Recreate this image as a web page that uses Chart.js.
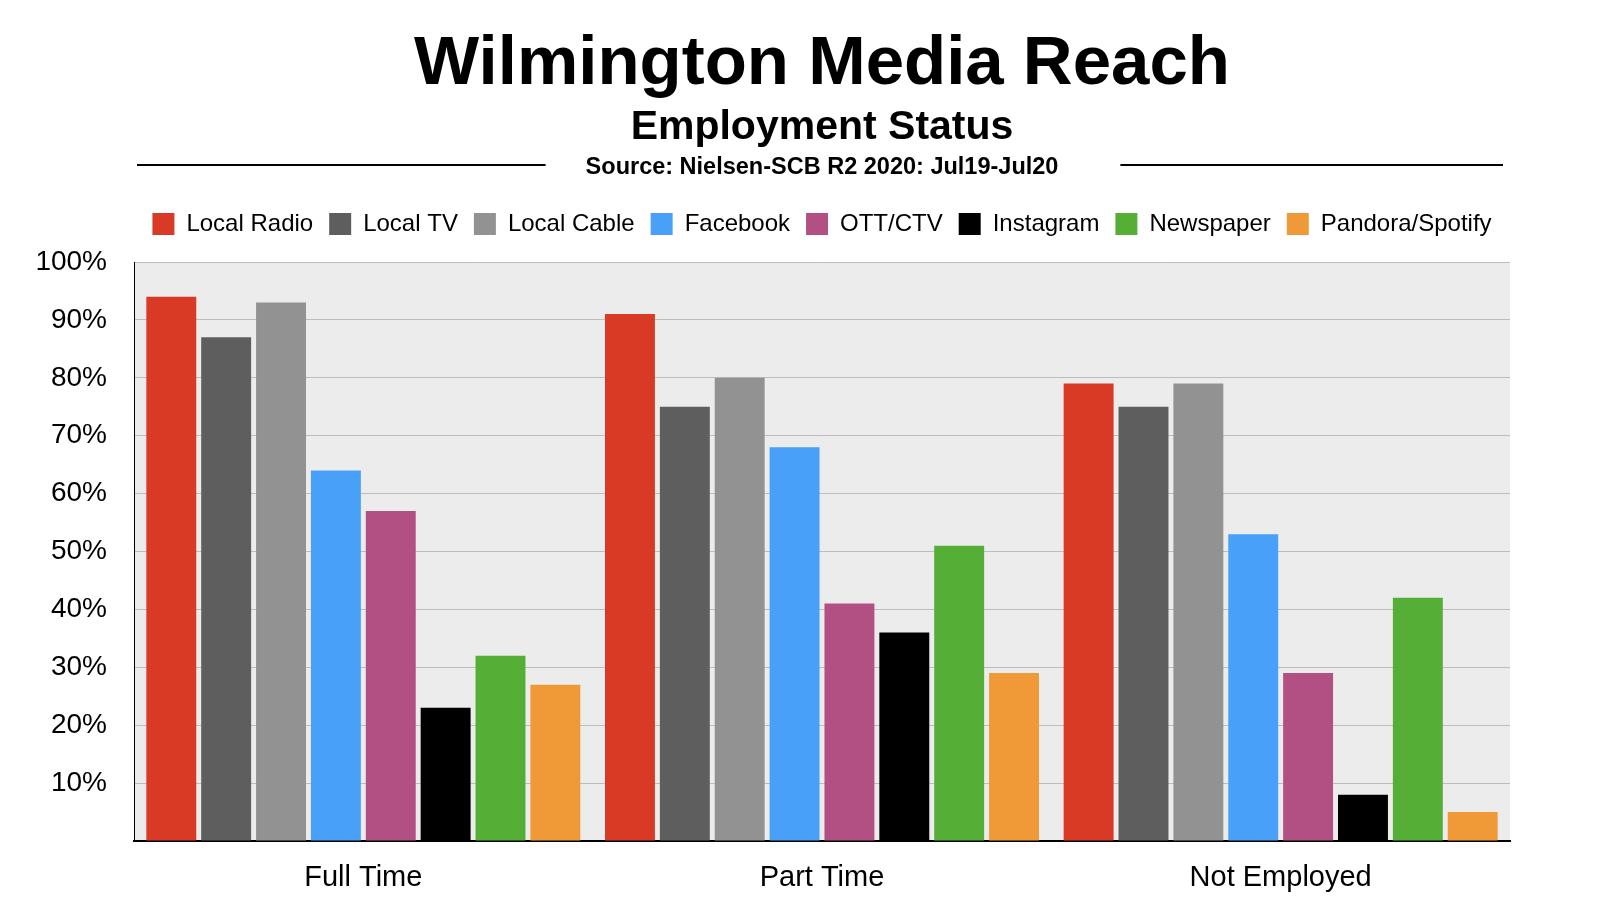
<!DOCTYPE html>
<html>
<head>
<meta charset="utf-8">
<script src="https://cdn.jsdelivr.net/npm/chart.js@4.4.1/dist/chart.umd.min.js"></script>
<style>
html, body { margin: 0; padding: 0; background: #fff; }
#wrap { width: 1600px; height: 918px; }
</style>
</head>
<body>
<div id="wrap"><canvas id="chart" width="1600" height="918"></canvas></div>
<script>
var categories = ['Full Time', 'Part Time', 'Not Employed'];
var seriesNames = ['Local Radio', 'Local TV', 'Local Cable', 'Facebook', 'OTT/CTV', 'Instagram', 'Newspaper', 'Pandora/Spotify'];
var localRadio = [94, 91, 79];
var localTV = [87, 75, 75];
var localCable = [93, 80, 79];
var facebook = [64, 68, 53];
var ottCtv = [57, 41, 29];
var instagram = [23, 36, 8];
var newspaper = [32, 51, 42];
var pandoraSpotify = [27, 29, 5];
var yTicks = [0, 10, 20, 30, 40, 50, 60, 70, 80, 90, 100];

var seriesValues = [localRadio, localTV, localCable, facebook, ottCtv, instagram, newspaper, pandoraSpotify];
var colors = ['#d93a26', '#5e5e5e', '#929292', '#48a0f8', '#b35083', '#000000', '#55ae35', '#f09a37'];
var FONT = "'Liberation Sans', Arial, Helvetica, sans-serif";

var datasets = seriesNames.map(function(name, i) {
    return {
        label: name,
        data: seriesValues[i],
        backgroundColor: colors[i],
        borderWidth: 0,
        categoryPercentage: 0.957,
        barPercentage: 0.91
    };
});

// plot area background
var plotBg = {
    id: 'plotBg',
    beforeDraw: function(chart) {
        var a = chart.chartArea, ctx = chart.ctx;
        ctx.save();
        ctx.fillStyle = '#ececec';
        ctx.fillRect(a.left, a.top, a.right - a.left, a.bottom - a.top);
        ctx.restore();
    }
};

// titles + source line with rules
var titles = {
    id: 'titles',
    beforeUpdate: function(chart) {
        var lg = chart.legend;
        if (lg && !lg._patched) {
            var fit = lg.fit;
            lg.fit = function() {
                fit.call(this);
                this.height = 262 - chart.options.layout.padding.top;
            };
            lg._patched = true;
        }
    },
    afterLayout: function(chart) {
        // center legend over the plot area
        chart.legend.left = chart.chartArea.left;
        chart.legend.right = chart.chartArea.right;
    },
    afterDraw: function(chart) {
        var a = chart.chartArea, ctx = chart.ctx;
        var cx = (a.left + a.right) / 2;
        ctx.save();
        ctx.fillStyle = '#000';
        ctx.textAlign = 'center';
        ctx.textBaseline = 'alphabetic';
        ctx.font = 'bold 69px ' + FONT;
        ctx.fillText('Wilmington Media Reach', cx, 84);
        ctx.font = 'bold 41px ' + FONT;
        ctx.fillText('Employment Status', cx, 139);
        ctx.font = 'bold 23.5px ' + FONT;
        var src = 'Source: Nielsen-SCB R2 2020: Jul19-Jul20';
        ctx.fillText(src, cx, 174);
        var w = ctx.measureText(src).width;
        ctx.strokeStyle = '#000';
        ctx.lineWidth = 2;
        ctx.beginPath();
        ctx.moveTo(a.left + 3, 165);
        ctx.lineTo(cx - w / 2 - 40, 165);
        ctx.moveTo(cx + w / 2 + 62, 165);
        ctx.lineTo(a.right - 7, 165);
        ctx.stroke();
        ctx.restore();
    }
};

new Chart(document.getElementById('chart').getContext('2d'), {
    type: 'bar',
    data: { labels: categories, datasets: datasets },
    plugins: [plotBg, titles],
    options: {
        responsive: false,
        animation: false,
        layout: { padding: { top: 196, left: 0, right: 90, bottom: 0 } },
        plugins: {
            title: { display: false },
            tooltip: { enabled: false },
            legend: {
                position: 'top',
                align: 'center',
                labels: {
                    boxWidth: 22,
                    boxHeight: 22,
                    padding: 16,
                    color: '#000',
                    font: { family: FONT, size: 24 }
                }
            }
        },
        scales: {
            x: {
                grid: { display: false, drawTicks: false },
                border: { display: true, color: '#000', width: 2 },
                ticks: { color: '#000', padding: 20, font: { family: FONT, size: 29 } },
                afterFit: function(scale) { scale.height = 77; }
            },
            y: {
                min: yTicks[0],
                max: yTicks[yTicks.length - 1],
                grid: { color: '#bdbdbd', lineWidth: 1, drawTicks: false },
                border: { display: true, color: '#000', width: 1 },
                ticks: {
                    stepSize: 10,
                    color: '#000',
                    padding: 27,
                    font: { family: FONT, size: 28 },
                    callback: function(v) { return v === 0 ? '' : v + '%'; }
                },
                afterFit: function(scale) { scale.width = 134; }
            }
        }
    }
});
</script>
</body>
</html>
